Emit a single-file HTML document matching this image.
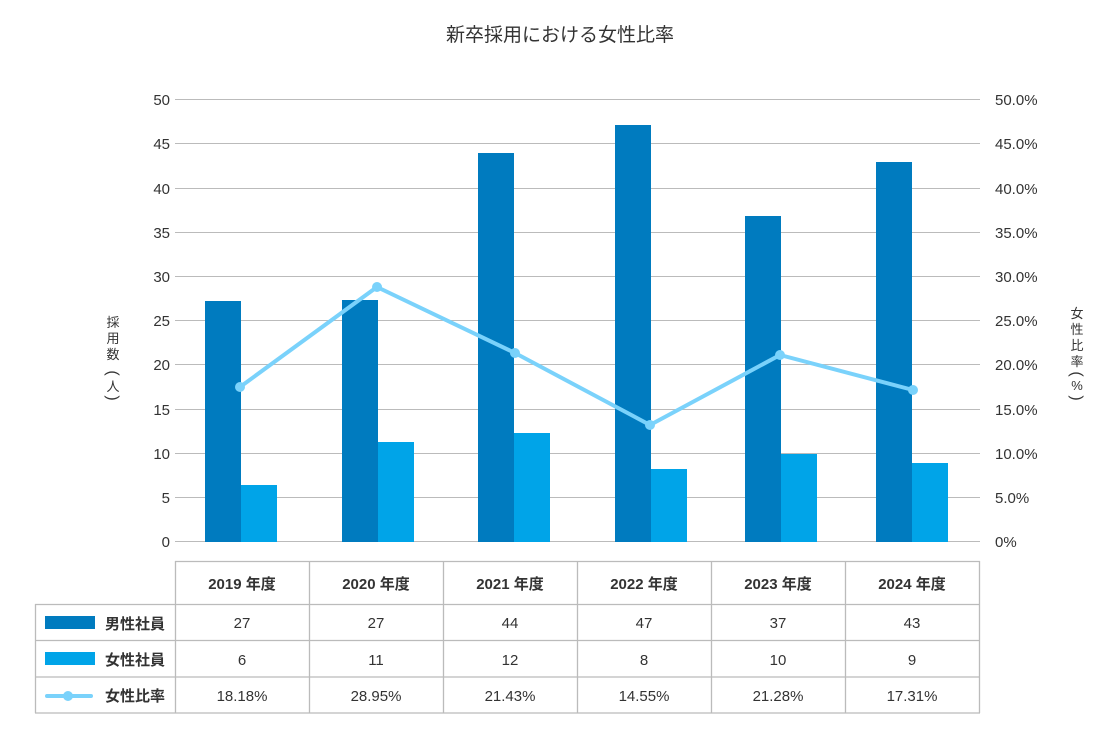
<!DOCTYPE html>
<html><head><meta charset="utf-8"><style>
html,body{margin:0;padding:0;background:#fff;}
text{font-family:"Liberation Sans","Noto Sans CJK JP",sans-serif;fill:#333;}
</style></head><body>
<svg width="1120" height="730" xmlns="http://www.w3.org/2000/svg">
<text x="560" y="41" font-size="19" text-anchor="middle" fill="#333">新卒採用における女性比率</text>
<g stroke="#bbb" stroke-width="1">
<line x1="175" x2="980" y1="99.5" y2="99.5"/><line x1="175" x2="980" y1="143.5" y2="143.5"/>
<line x1="175" x2="980" y1="188.5" y2="188.5"/><line x1="175" x2="980" y1="232.5" y2="232.5"/>
<line x1="175" x2="980" y1="276.5" y2="276.5"/><line x1="175" x2="980" y1="320.5" y2="320.5"/>
<line x1="175" x2="980" y1="364.5" y2="364.5"/><line x1="175" x2="980" y1="409.5" y2="409.5"/>
<line x1="175" x2="980" y1="453.5" y2="453.5"/><line x1="175" x2="980" y1="497.5" y2="497.5"/>
<line x1="175" x2="980" y1="541.5" y2="541.5"/>
</g>
<g font-size="15" text-anchor="end">
<text x="170" y="105">50</text><text x="170" y="149">45</text><text x="170" y="194">40</text>
<text x="170" y="238">35</text><text x="170" y="282">30</text><text x="170" y="326">25</text>
<text x="170" y="370">20</text><text x="170" y="415">15</text><text x="170" y="459">10</text>
<text x="170" y="503">5</text><text x="170" y="547">0</text>
</g>
<g font-size="15">
<text x="995" y="105">50.0%</text><text x="995" y="149">45.0%</text><text x="995" y="194">40.0%</text>
<text x="995" y="238">35.0%</text><text x="995" y="282">30.0%</text><text x="995" y="326">25.0%</text>
<text x="995" y="370">20.0%</text><text x="995" y="415">15.0%</text><text x="995" y="459">10.0%</text>
<text x="995" y="503">5.0%</text><text x="995" y="547">0%</text>
</g>
<g font-size="13" text-anchor="middle">
<text x="113" y="327">採</text><text x="113" y="343">用</text><text x="113" y="359">数</text>
<text x="113" y="391">人</text>
<text transform="translate(113,373) rotate(90)" font-size="16" dy="5">(</text>
<text transform="translate(113,398) rotate(90)" font-size="16" dy="5">)</text>
<text x="1077" y="318">女</text><text x="1077" y="334">性</text><text x="1077" y="350">比</text>
<text x="1077" y="366">率</text><text x="1077" y="390">%</text>
<text transform="translate(1077,374) rotate(90)" font-size="16" dy="5">(</text>
<text transform="translate(1077,398) rotate(90)" font-size="16" dy="5">)</text>
</g>
<g fill="#007bbf">
<rect x="205" y="301" width="36" height="241"/><rect x="342" y="300" width="36" height="242"/>
<rect x="478" y="153" width="36" height="389"/><rect x="615" y="125" width="36" height="417"/>
<rect x="745" y="216" width="36" height="326"/><rect x="876" y="162" width="36" height="380"/>
</g>
<g fill="#00a4e8">
<rect x="241" y="485" width="36" height="57"/><rect x="378" y="442" width="36" height="100"/>
<rect x="514" y="433" width="36" height="109"/><rect x="651" y="469" width="36" height="73"/>
<rect x="781" y="454" width="36" height="88"/><rect x="912" y="463" width="36" height="79"/>
</g>
<polyline points="240,387 377,287 515,353 650,425 780,355 913,390" fill="none" stroke="#7ad2fb" stroke-width="4"/>
<g fill="#7ad2fb">
<circle cx="240" cy="387" r="5"/><circle cx="377" cy="287" r="5"/><circle cx="515" cy="353" r="5"/>
<circle cx="650" cy="425" r="5"/><circle cx="780" cy="355" r="5"/><circle cx="913" cy="390" r="5"/>
</g>
<g stroke="#bbb" stroke-width="1.3" fill="none">
<line x1="175" x2="980" y1="561.5" y2="561.5"/>
<line x1="35" x2="980" y1="604.5" y2="604.5"/>
<line x1="35" x2="980" y1="640.5" y2="640.5"/>
<line x1="35" x2="980" y1="677" y2="677"/>
<line x1="35" x2="980" y1="713" y2="713"/>
<line x1="35.5" x2="35.5" y1="604" y2="713"/>
<line x1="175.5" x2="175.5" y1="561" y2="713"/>
<line x1="309.5" x2="309.5" y1="561" y2="713"/>
<line x1="443.5" x2="443.5" y1="561" y2="713"/>
<line x1="577.5" x2="577.5" y1="561" y2="713"/>
<line x1="711.5" x2="711.5" y1="561" y2="713"/>
<line x1="845.5" x2="845.5" y1="561" y2="713"/>
<line x1="979.5" x2="979.5" y1="561" y2="713"/>
</g>
<g font-size="15" text-anchor="middle">
<text x="242" y="589" font-weight="bold">2019 年度</text><text x="376" y="589" font-weight="bold">2020 年度</text>
<text x="510" y="589" font-weight="bold">2021 年度</text><text x="644" y="589" font-weight="bold">2022 年度</text>
<text x="778" y="589" font-weight="bold">2023 年度</text><text x="912" y="589" font-weight="bold">2024 年度</text>
<text x="242" y="628">27</text><text x="376" y="628">27</text><text x="510" y="628">44</text>
<text x="644" y="628">47</text><text x="778" y="628">37</text><text x="912" y="628">43</text>
<text x="242" y="665">6</text><text x="376" y="665">11</text><text x="510" y="665">12</text>
<text x="644" y="665">8</text><text x="778" y="665">10</text><text x="912" y="665">9</text>
<text x="242" y="701">18.18%</text><text x="376" y="701">28.95%</text><text x="510" y="701">21.43%</text>
<text x="644" y="701">14.55%</text><text x="778" y="701">21.28%</text><text x="912" y="701">17.31%</text>
</g>
<rect x="45" y="616" width="50" height="13" fill="#007bbf"/>
<rect x="45" y="652" width="50" height="13" fill="#00a4e8"/>
<line x1="47" x2="91" y1="696" y2="696" stroke="#7ad2fb" stroke-width="4" stroke-linecap="round"/>
<circle cx="68" cy="696" r="5" fill="#7ad2fb"/>
<g font-size="15" font-weight="bold">
<text x="105" y="629">男性社員</text><text x="105" y="665">女性社員</text><text x="105" y="701">女性比率</text>
</g>
</svg>
</body></html>
